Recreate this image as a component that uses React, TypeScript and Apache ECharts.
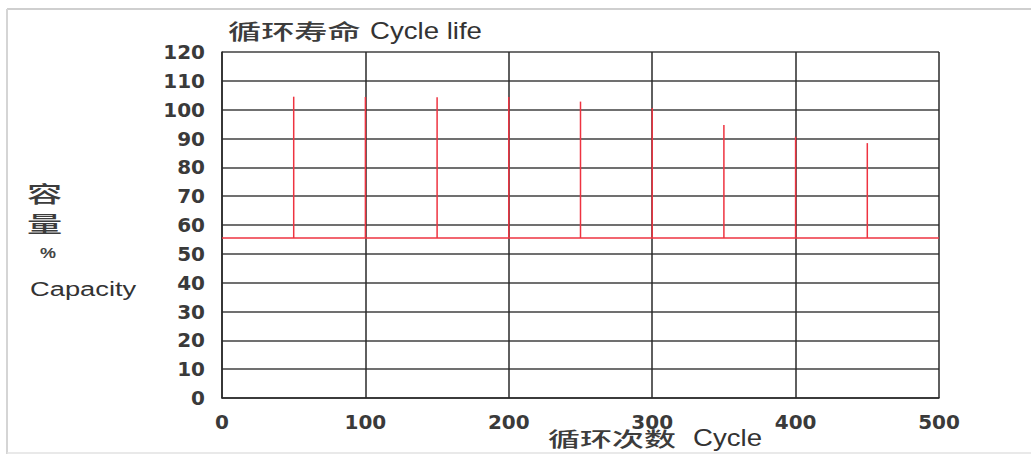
import React, { useEffect, useRef } from "react";
import * as echarts from "echarts";

const cycles = [50, 100, 150, 200, 250, 300, 350, 400, 450];
const capacityPeaks = [104.5, 104.4, 104.3, 104.4, 102.8, 100.6, 94.7, 90.6, 88.4];
const baseCapacity = 55.5;
const xRange = [0, 500];
const yRange = [0, 120];

export default function App() {
  const ref = useRef<HTMLDivElement>(null);
  useEffect(() => {
    document.body.style.margin = "0";
    const chart = echarts.init(ref.current!, null, { renderer: "svg" });
    const red = "#ee3340";
    const dark = "#2a2a2a";
    const txt = "#333";
    const cjk = "'Noto Sans CJK SC', sans-serif";
    const lat = "'Liberation Sans', Arial, sans-serif";
    chart.setOption({
      animation: false,
      backgroundColor: "#fff",
      grid: { left: 222, right: 92, top: 52, bottom: 56, containLabel: false },
      xAxis: {
        type: "value",
        min: xRange[0],
        max: xRange[1],
        interval: 100,
        axisLine: { show: true, lineStyle: { color: dark, width: 1.5 } },
        axisTick: { show: false },
        splitLine: { show: true, lineStyle: { color: dark, width: 1.5 } },
        axisLabel: {
          margin: 14,
          color: "#3a3a3a",
          fontSize: 20,
          fontWeight: "bold",
          fontFamily: "'DejaVu Sans', sans-serif",
        },
      },
      yAxis: {
        type: "value",
        min: yRange[0],
        max: yRange[1],
        interval: 10,
        axisLine: { show: true, lineStyle: { color: dark, width: 1.5 } },
        axisTick: { show: false },
        splitLine: { show: true, lineStyle: { color: "#404040", width: 1.5 } },
        axisLabel: {
          margin: 17,
          color: "#3a3a3a",
          fontSize: 20,
          fontWeight: "bold",
          fontFamily: "'DejaVu Sans', sans-serif",
        },
      },
      series: [
        {
          type: "line",
          data: [[xRange[0], baseCapacity], [xRange[1], baseCapacity]],
          symbol: "none",
          lineStyle: { color: red, width: 1.5 },
          z: 3,
        },
        {
          type: "custom",
          data: cycles.map((c, i) => [c, capacityPeaks[i]]),
          renderItem: (params: any, api: any) => {
            const x = api.value(0);
            const top = api.coord([x, api.value(1)]);
            const bot = api.coord([x, baseCapacity]);
            return {
              type: "line",
              shape: { x1: top[0], y1: top[1], x2: bot[0], y2: bot[1] },
              style: { stroke: red, lineWidth: 1.5 },
            };
          },
          z: 4,
        },
      ],
      graphic: [
        { type: "line", shape: { x1: 7, y1: 9, x2: 1031, y2: 9 }, style: { stroke: "#cfcfcf", lineWidth: 2 } },
        { type: "line", shape: { x1: 7, y1: 9, x2: 7, y2: 454 }, style: { stroke: "#d5d5d5", lineWidth: 2 } },
        { type: "line", shape: { x1: 7, y1: 453, x2: 1031, y2: 453 }, style: { stroke: "#e2e2e2", lineWidth: 1.5 } },
        { type: "text", x: 228, y: 30, scaleX: 1.58, style: { text: "循环寿命", font: `500 21px ${cjk}`, fill: "#3c3c3c", textVerticalAlign: "middle" } },
        { type: "text", x: 370, y: 31, scaleX: 1.2, style: { text: "Cycle life", font: `23px ${lat}`, fill: txt, textVerticalAlign: "middle" } },
        { type: "text", x: 27, y: 192, scaleX: 1.6, style: { text: "容", font: `500 22px ${cjk}`, fill: "#3c3c3c", textVerticalAlign: "middle" } },
        { type: "text", x: 27, y: 222, scaleX: 1.6, style: { text: "量", font: `500 22px ${cjk}`, fill: "#3c3c3c", textVerticalAlign: "middle" } },
        { type: "text", x: 40, y: 253, scaleX: 1.2, style: { text: "%", font: `bold 15px ${lat}`, fill: "#444", textVerticalAlign: "middle" } },
        { type: "text", x: 30, y: 289, scaleX: 1.3, style: { text: "Capacity", font: `21px ${lat}`, fill: txt, textVerticalAlign: "middle" } },
        { type: "text", x: 548, y: 438, scaleX: 1.6, style: { text: "循环次数", font: `500 20px ${cjk}`, fill: "#3c3c3c", textVerticalAlign: "middle" } },
        { type: "text", x: 693, y: 438, scaleX: 1.2, style: { text: "Cycle", font: `23px ${lat}`, fill: txt, textVerticalAlign: "middle" } },
      ],
    });
    return () => chart.dispose();
  }, []);
  return <div ref={ref} style={{ width: 1031, height: 454 }} />;
}
